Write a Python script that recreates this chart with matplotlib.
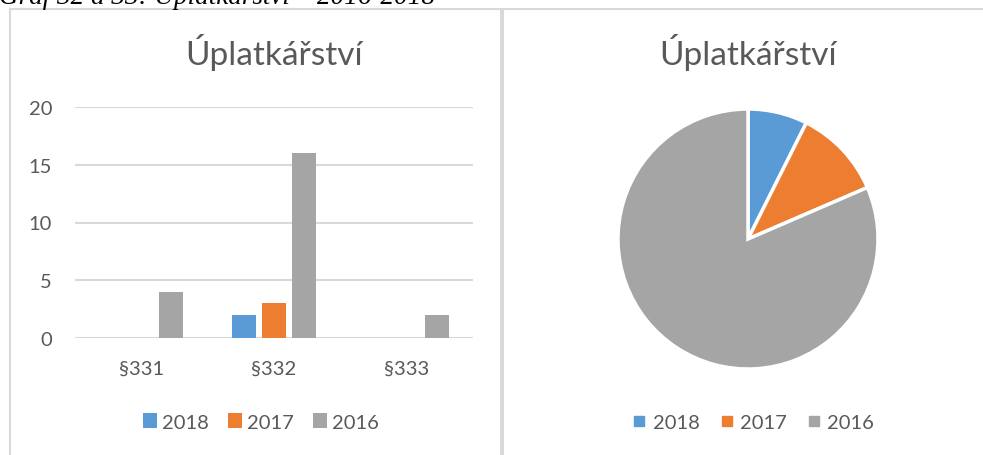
import numpy as np
import matplotlib as mpl
mpl.use('Agg')
import matplotlib.pyplot as plt
from matplotlib.patches import Rectangle

# data
categories = ['§331', '§332', '§333']
years = ['2018', '2017', '2016']
values_2018 = [0, 2, 0]
values_2017 = [0, 3, 0]
values_2016 = [4, 16, 2]
colors = ['#5B9BD5', '#ED7D31', '#A5A5A5']
title = 'Úplatkářství'
caption = 'Graf 32 a 33: Úplatkářství – 2016-2018'

W, H = 983, 456
fig = plt.figure(figsize=(W / 100, H / 100), dpi=100)
plt.rcParams['font.family'] = ['Lato', 'DejaVu Sans']
txt = '#595959'
grid = '#D9D9D9'
fs = 14.5

def fx(px):
    return px / W

def fy(py):
    return 1 - py / H

# panel borders
fig.patches.append(Rectangle((fx(10), fy(470)), fx(491), (470 - 9.5) / H, transform=fig.transFigure,
                             fill=False, edgecolor=grid, lw=1.5))
fig.patches.append(Rectangle((fx(503), fy(470)), fx(500), (470 - 9.5) / H, transform=fig.transFigure,
                             fill=False, edgecolor=grid, lw=1.5))

# caption, cut at the top like in the source
fig.text(fx(-1), fy(4.5), caption, family='Liberation Serif', style='italic', fontsize=19.5,
         va='baseline', ha='left', color='black')

### bar chart
ax = fig.add_axes([fx(75), fy(339), fx(398), 231 / H])
series = [values_2018, values_2017, values_2016]
x = np.arange(len(categories))
off = 0.2256
w = 0.18
for i, (vals, c) in enumerate(zip(series, colors)):
    vals = np.array(vals, dtype=float)
    m = vals > 0
    ax.bar(x[m] + (i - 1) * off, vals[m], width=w, color=c, label=years[i], zorder=3)
ax.set_xlim(-0.5, 2.5)
ax.set_ylim(0, 20)
ax.set_yticks([0, 5, 10, 15, 20])
ax.set_xticks(x)
ax.set_xticklabels(categories)
ax.grid(axis='y', color=grid, lw=1.5, zorder=0)
for s in ax.spines.values():
    s.set_visible(False)
ax.tick_params(length=0, colors=txt, labelsize=fs)
ax.tick_params(axis='y', pad=16.5)
ax.tick_params(axis='x', pad=16)
ax.set_title(title, fontsize=24, color=txt, pad=31)
ax.legend(loc='center', bbox_to_anchor=((261 - 75) / 398, -(423 - 339) / 231), ncol=3, frameon=False,
          fontsize=fs, labelcolor=txt, handlelength=0.7, handleheight=0.7, handletextpad=0.25,
          columnspacing=0.95)

### pie chart
ax2 = fig.add_axes([fx(618), fy(370), fx(260), 260 / H])
pie_vals = [sum(values_2018), sum(values_2017), sum(values_2016)]
ax2.pie(pie_vals, colors=colors, startangle=90, counterclock=False, radius=1,
        wedgeprops=dict(edgecolor='white', linewidth=2.5))
ax2.set_xlim(-1, 1)
ax2.set_ylim(-1, 1)
ax2.set_title(title, fontsize=24, color=txt, pad=32.4)
handles = [plt.Line2D([], [], marker='s', ls='', color=c, markersize=7.2) for c in colors]
ax2.legend(handles, years, loc='center', bbox_to_anchor=((754 - 618) / 260, -(423 - 370) / 260), ncol=3,
           frameon=False, fontsize=fs, labelcolor=txt, handlelength=0.5, handletextpad=0.4,
           columnspacing=1.1)

plt.savefig('out.png', dpi=100)
